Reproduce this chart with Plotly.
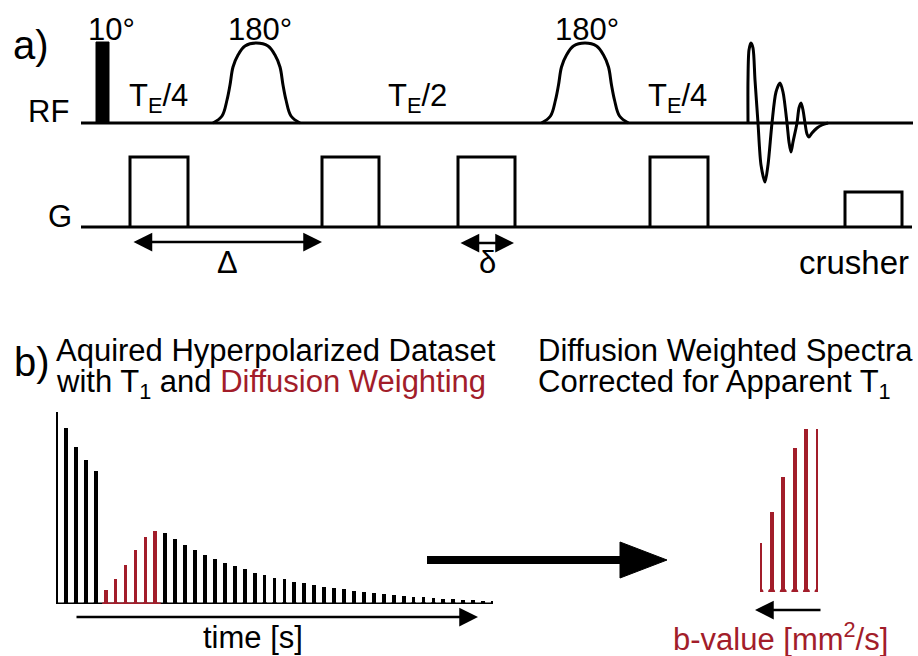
import plotly.graph_objects as go

# ---------------- data ----------------
# left spectrum: peak heights of the acquired dataset (pixels above baseline in the original)
ACQ_HEIGHTS = [192, 176, 157, 144, 133,            # T1 reference scans (black)
               14, 25, 39, 54, 67, 73,              # diffusion weighted scans (red)
               71, 65, 59, 54, 49, 45, 41, 38, 35, 31, 29, 26,
               25, 22, 21, 19, 17, 16, 15, 13, 12, 11, 10, 9,
               8, 7, 7, 6, 5, 5, 4, 4, 3, 3]
ACQ_RED = list(range(5, 11))
# right spectrum: T1-corrected diffusion weighted peaks
DW_HEIGHTS = [49, 80, 115, 144, 163, 163]

# RF pulse shape (offsets / heights)
PULSE_DX = [-43.5, -34.5, -29.5, -26.5, -23.5, -18.5, -11.5, 0, 11.5, 18.5, 23.5, 26.5, 29.5, 34.5, 43.5]
PULSE_H = [0, 7, 23, 38, 56, 68, 77, 80, 77, 68, 56, 38, 23, 7, 0]
PULSE_CENTERS = [256.5, 585]

# FID
FID_X = [748, 748, 749, 751, 753, 755, 758, 761, 765, 768, 772, 776, 780, 783, 787, 789, 791, 793,
         797, 799, 801, 803, 805, 807, 809, 812, 817, 822, 828]
FID_Y = [123, 80, 50, 43, 48, 80, 123, 165, 182, 165, 123, 92, 83, 92, 123, 142, 152, 142,
         123, 108, 103, 110, 123, 134, 137, 133, 128, 125, 123]

# gradient lobes (x start, x end, top)
GRADS = [(130, 188, 157), (322, 379, 157), (458, 515, 157), (650, 708, 157), (845, 902, 192)]

RED = '#a21d2a'
FONT = 'Liberation Sans, Arial, sans-serif'
W, H = 918, 656

fig = go.Figure()

# ---------- top panel: pulse sequence ----------
for c in PULSE_CENTERS:
    fig.add_trace(go.Scatter(x=[c + d for d in PULSE_DX], y=[123 - h for h in PULSE_H],
                             mode='lines', line=dict(color='black', width=3, shape='spline', smoothing=1.0),
                             xaxis='x', yaxis='y', hoverinfo='skip'))
fig.add_trace(go.Scatter(x=FID_X, y=FID_Y, mode='lines',
                         line=dict(color='black', width=3, shape='spline', smoothing=0.8),
                         xaxis='x', yaxis='y', hoverinfo='skip'))

shapes = []
shapes.append(dict(type='line', x0=81, x1=913, y0=123, y1=123, xref='x', yref='y',
                   line=dict(color='black', width=3)))
shapes.append(dict(type='rect', x0=96, x1=109, y0=42, y1=123, xref='x', yref='y',
                   fillcolor='black', line=dict(color='black', width=1)))
shapes.append(dict(type='line', x0=81, x1=912, y0=227, y1=227, xref='x', yref='y',
                   line=dict(color='black', width=3)))
for x0, x1, top in GRADS:
    shapes.append(dict(type='path', path=f'M{x0},227 L{x0},{top} L{x1},{top} L{x1},227',
                       xref='x', yref='y', line=dict(color='black', width=3)))

# big arrow
shapes.append(dict(type='line', x0=427, x1=628, y0=560, y1=560, xref='x', yref='y',
                   line=dict(color='black', width=8)))
shapes.append(dict(type='path', path='M620,542 L667,560 L620,578 Z', xref='x', yref='y',
                   fillcolor='black', line=dict(color='black', width=1)))

annotations = []


def txt(x, y, s, size=31, anchor='left', color='black', yanchor='middle'):
    annotations.append(dict(x=x, y=y, xref='x', yref='y', text=s, showarrow=False,
                            xanchor=anchor, yanchor=yanchor,
                            font=dict(family=FONT, size=size, color=color)))


def arrow(x_head, x_tail, y, both=False, width=2.5):
    annotations.append(dict(x=x_head, y=y, ax=x_tail, ay=y, xref='x', yref='y', axref='x', ayref='y',
                            text='', showarrow=True, arrowhead=2, startarrowhead=2,
                            arrowsize=1.5, startarrowsize=1.5, arrowwidth=width,
                            arrowside='end+start' if both else 'end', arrowcolor='black'))


txt(11, 45, 'a)', size=40)
txt(86, 29, '10°')
txt(226, 29, '180°')
txt(553, 29, '180°')
txt(26, 111, 'RF')
txt(127, 98, 'T<sub>E</sub>/4')
txt(386, 98, 'T<sub>E</sub>/2')
txt(646, 98, 'T<sub>E</sub>/4')
txt(46, 216, 'G')
txt(227, 262, 'Δ', anchor='center')
txt(487, 262, 'δ', anchor='center')
txt(797, 262, 'crusher', size=33)

arrow(322, 132, 242, both=True)
arrow(514, 459, 243, both=True)

# ---------- bottom panel ----------
txt(12, 362, 'b)', size=40)
txt(54, 350, 'Aquired Hyperpolarized Dataset')
txt(54, 384, f'with T<sub>1</sub> and <span style="color:{RED}">Diffusion Weighting</span>')
txt(536, 350, 'Diffusion Weighted Spectra')
txt(536, 384, 'Corrected for Apparent T<sub>1</sub>')
txt(253, 637, 'time [s]', anchor='center')
txt(780, 637, 'b-value [mm<sup>2</sup>/s]', anchor='center', color=RED)

arrow(478, 75, 617)
arrow(755, 822, 610)

# left spectrum (own axes)
idx = list(range(len(ACQ_HEIGHTS)))
cols = [RED if i in ACQ_RED else 'black' for i in idx]
fig.add_trace(go.Scatter(x=[-0.3, len(idx) - 0.7], y=[0, 0], mode='lines',
                         line=dict(color='black', width=3), xaxis='x2', yaxis='y2', hoverinfo='skip'))
fig.add_trace(go.Scatter(x=[ACQ_RED[0] - 0.35, ACQ_RED[-1] + 0.55], y=[0, 0], mode='lines',
                         line=dict(color=RED, width=3), xaxis='x2', yaxis='y2', hoverinfo='skip'))
fig.add_trace(go.Bar(x=idx, y=ACQ_HEIGHTS, width=0.38, marker=dict(color=cols, line=dict(width=0)),
                     xaxis='x2', yaxis='y2', hoverinfo='skip'))
fig.add_trace(go.Scatter(x=idx, y=[0] * len(idx), mode='markers',
                         marker=dict(color=cols, size=5), xaxis='x2', yaxis='y2', hoverinfo='skip'))

# right spectrum (own axes)
idx2 = list(range(len(DW_HEIGHTS)))
fig.add_trace(go.Bar(x=idx2, y=DW_HEIGHTS, width=0.36, marker=dict(color=RED, line=dict(width=0)),
                     xaxis='x3', yaxis='y3', hoverinfo='skip'))
fig.add_trace(go.Scatter(x=idx2, y=[0] * len(idx2), mode='markers',
                         marker=dict(color=RED, size=7), xaxis='x3', yaxis='y3', hoverinfo='skip'))


def dom_x(a, b):
    return [a / W, b / W]


def dom_y(bottom_px, top_px):
    return [(H - bottom_px) / H, (H - top_px) / H]


hidden = dict(visible=False, showgrid=False, zeroline=False, fixedrange=True)
fig.update_layout(
    width=W, height=H, margin=dict(l=0, r=0, t=0, b=0),
    paper_bgcolor='white', plot_bgcolor='rgba(0,0,0,0)', showlegend=False,
    bargap=0,
    xaxis=dict(range=[0, W], domain=[0, 1], **hidden),
    yaxis=dict(range=[H, 0], domain=[0, 1], **hidden),
    xaxis2=dict(range=[0, len(ACQ_HEIGHTS) - 1], domain=dom_x(56, 493), anchor='y2', **hidden),
    yaxis2=dict(range=[0, max(ACQ_HEIGHTS)], domain=dom_y(604, 412), anchor='x2', **hidden),
    xaxis3=dict(range=[0, len(DW_HEIGHTS) - 1], domain=dom_x(760, 818), anchor='y3', **hidden),
    yaxis3=dict(range=[0, max(DW_HEIGHTS)], domain=dom_y(592, 429), anchor='x3', **hidden),
    shapes=shapes, annotations=annotations,
)

fig.write_html('out.html')
